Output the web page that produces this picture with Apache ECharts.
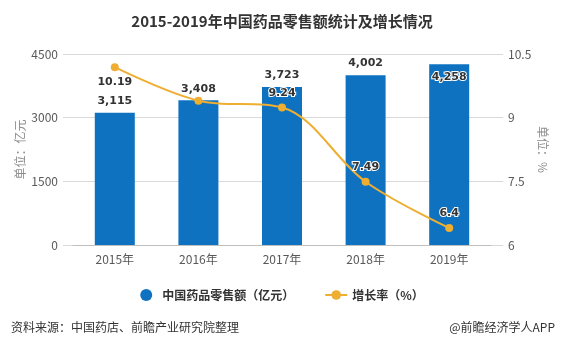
<!DOCTYPE html>
<html>
<head>
<meta charset="utf-8">
<script src="https://cdn.jsdelivr.net/npm/echarts@6/dist/echarts.min.js"></script>
<style>
html,body{margin:0;padding:0;background:#fff;}
#chart{width:564px;height:346px;}
</style>
</head>
<body>
<div id="chart"></div>
<script>
// Retail sales of pharmaceuticals in China, 2015-2019
const years = ['2015年', '2016年', '2017年', '2018年', '2019年'];
const salesValues = [3115, 3408, 3723, 4002, 4258];      // 亿元
const growthValues = [10.19, 9.4, 9.24, 7.49, 6.4];      // %
const leftTicks = { min: 0, max: 4500, interval: 1500 };
const rightTicks = { min: 6, max: 10.5, interval: 1.5 };

const numFont = 'DejaVu Sans, Verdana, sans-serif';
const cjkFont = '"Noto Sans CJK SC", "Microsoft YaHei", sans-serif';

const labelBase = {
  show: true,
  fontFamily: numFont,
  fontWeight: 'bold',
  fontSize: 11,
  color: '#333',
  textBorderColor: '#fff',
  textBorderWidth: 2
};

const barData = salesValues.map((v, i) => {
  const item = { value: v };
  if (i === salesValues.length - 1) {
    item.label = Object.assign({}, labelBase, { position: 'insideTop', distance: 7 });
  }
  return item;
});

const linePlacement = ['bottom', null, 'top', 'top', 'top'];
const lineData = growthValues.map((v, i) => {
  const item = { value: v };
  if (linePlacement[i] === null) {
    item.label = { show: false };
  } else {
    item.label = Object.assign({}, labelBase, { position: linePlacement[i], distance: 5 });
  }
  return item;
});

const chart = echarts.init(document.getElementById('chart'));
chart.setOption({
  animation: false,
  backgroundColor: '#fff',
  title: [
    {
      text: '2015-2019年中国药品零售额统计及增长情况',
      left: 'center', top: 9,
      textStyle: { fontFamily: cjkFont, fontSize: 15, fontWeight: 'bold', color: '#333' }
    },
    {
      text: '资料来源：中国药店、前瞻产业研究院整理',
      left: 6, top: 316,
      textStyle: { fontFamily: cjkFont, fontSize: 12, fontWeight: 'normal', color: '#333' }
    },
    {
      text: '@前瞻经济学人APP',
      right: 4, top: 316,
      textStyle: { fontFamily: cjkFont, fontSize: 12, fontWeight: 'normal', color: '#333' }
    }
  ],
  legend: {
    top: 284, left: 'center',
    itemGap: 30,
    itemWidth: 22, itemHeight: 12,
    textStyle: { fontFamily: cjkFont, fontSize: 12, fontWeight: 'bold', color: '#333' },
    data: [
      { name: '中国药品零售额（亿元）', icon: 'circle' },
      { name: '增长率（%）' }
    ]
  },
  grid: [
    { left: 73, right: 73, top: 54, bottom: 101 },
    { left: 63, right: 61, top: 54, bottom: 101 }
  ],
  xAxis: [
    {
      type: 'category', gridIndex: 0, data: years,
      axisLine: { lineStyle: { color: '#bfbfbf' } },
      axisTick: { alignWithLabel: true, length: 5, lineStyle: { color: '#bfbfbf' } },
      axisLabel: { fontFamily: cjkFont, fontSize: 12, color: '#595959', margin: 8 }
    },
    { type: 'category', gridIndex: 1, data: years, show: false }
  ],
  yAxis: [
    {
      type: 'value', gridIndex: 1, position: 'left',
      min: leftTicks.min, max: leftTicks.max, interval: leftTicks.interval,
      name: '单位：亿元', nameLocation: 'middle', nameRotate: 90, nameGap: 37,
      nameMoveOverlap: false,
      nameTextStyle: { fontFamily: cjkFont, fontSize: 12, color: '#8c8c8c' },
      axisLine: { show: false }, axisTick: { show: false },
      axisLabel: { fontFamily: cjkFont, fontSize: 12, color: '#595959', margin: 5, formatter: v => String(v) },
      splitLine: { lineStyle: { color: '#d9d9d9' } }
    },
    {
      type: 'value', gridIndex: 1, position: 'right',
      min: rightTicks.min, max: rightTicks.max, interval: rightTicks.interval,
      name: '单位：%', nameLocation: 'middle', nameRotate: -90, nameGap: 34,
      nameMoveOverlap: false,
      nameTextStyle: { fontFamily: cjkFont, fontSize: 12, color: '#8c8c8c' },
      axisLine: { show: false }, axisTick: { show: false },
      axisLabel: { fontFamily: cjkFont, fontSize: 12, color: '#595959', margin: 5, formatter: v => String(v) },
      splitLine: { show: false }
    },
    {
      type: 'value', gridIndex: 0, show: false,
      min: leftTicks.min, max: leftTicks.max, interval: leftTicks.interval,
      splitLine: { show: false }
    },
    {
      type: 'value', gridIndex: 0, show: false,
      min: rightTicks.min, max: rightTicks.max, interval: rightTicks.interval,
      splitLine: { show: false }
    }
  ],
  series: [
    {
      name: '中国药品零售额（亿元）',
      type: 'bar', xAxisIndex: 0, yAxisIndex: 2,
      barWidth: 40,
      itemStyle: { color: '#0f72c0' },
      label: Object.assign({}, labelBase, {
        position: 'top', distance: 6,
        formatter: p => p.value.toLocaleString('en-US')
      }),
      data: barData
    },
    {
      name: '增长率（%）',
      type: 'line', xAxisIndex: 0, yAxisIndex: 3,
      smooth: 0.35,
      symbol: 'circle', symbolSize: 8,
      lineStyle: { color: '#eeae32', width: 2 },
      itemStyle: { color: '#eeae32' },
      z: 5,
      data: lineData
    }
  ]
});
</script>
</body>
</html>
